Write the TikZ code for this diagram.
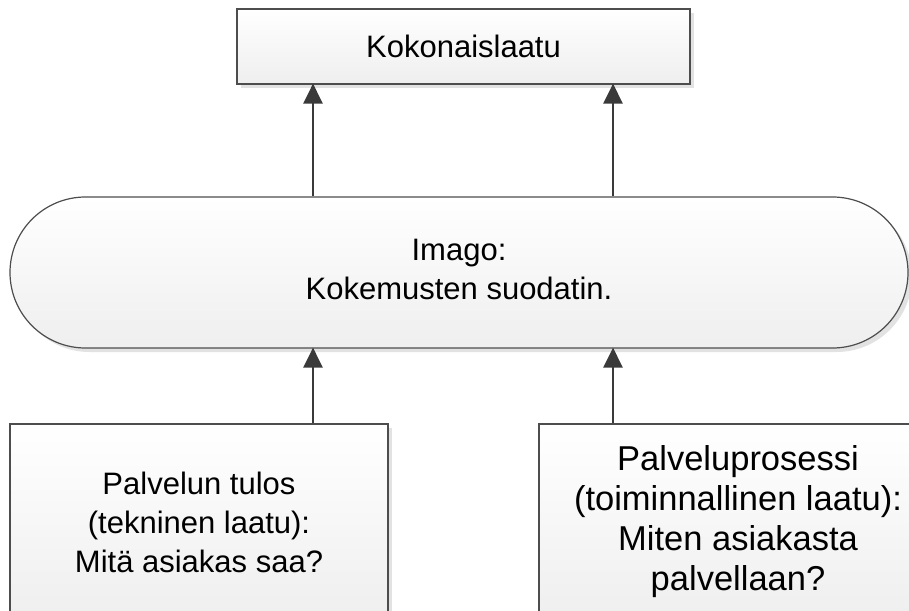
\documentclass[tikz,border=0pt]{standalone}
\usepackage{fontspec}
\setmainfont{Liberation Sans}
\usetikzlibrary{shadows,arrows.meta}
\definecolor{edge}{HTML}{4D4D4D}
\definecolor{arrowc}{HTML}{3A3A3A}
\definecolor{shade}{HTML}{E2E2E2}
\begin{document}
\begin{tikzpicture}[x=1pt,y=-1pt,
  box/.style={draw=edge, line width=1.2pt, top color=white, bottom color=gray!13,
    drop shadow={shadow xshift=4pt, shadow yshift=-4pt, fill=shade, opacity=1},
    align=center, font=\fontsize{31}{39}\selectfont, inner sep=0pt},
  arr/.style={draw=arrowc, line width=2.8pt, -{Triangle[length=20pt,width=19pt]}, shorten >=-1pt}]
\useasboundingbox (0,0) rectangle (909,610);
\clip (0,0) rectangle (909,610);
\node[box, minimum width=453pt, minimum height=75pt] (top) at (463.5,46.5) {Kokonaislaatu};
\node[box, rounded corners=75.5pt, minimum width=898pt, minimum height=151pt] (img) at (459,272.5) {\raisebox{-4pt}{\begin{tabular}{@{}c@{}}Imago:\\Kokemusten suodatin.\end{tabular}}};
\node[box, minimum width=378pt, minimum height=196pt] (bl) at (199,522) {Palvelun tulos\\(tekninen laatu):\\Mitä asiakas saa?};
\node[box, minimum width=398pt, minimum height=196pt, font=\fontsize{34.5}{40}\selectfont] (br) at (738,522) {Palveluprosessi\\(toiminnallinen laatu):\\Miten asiakasta\\palvellaan?};
\coordinate (c1) at (313,0);
\coordinate (c2) at (613,0);
\draw[arr] (img.north -| c1) -- (top.south -| c1);
\draw[arr] (img.north -| c2) -- (top.south -| c2);
\draw[arr] (bl.north -| c1) -- (img.south -| c1);
\draw[arr] (br.north -| c2) -- (img.south -| c2);
\end{tikzpicture}
\end{document}
